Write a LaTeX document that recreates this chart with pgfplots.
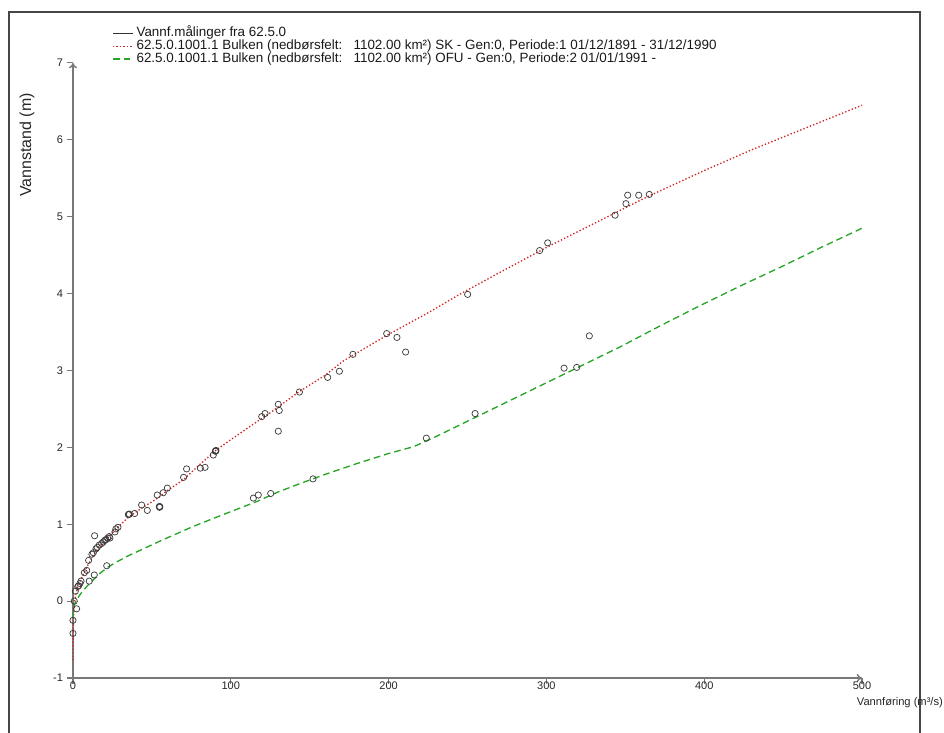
\documentclass[border=0pt]{standalone}
\usepackage{fontspec}
\setmainfont{Liberation Sans}
\usepackage{pgfplots}
\pgfplotsset{compat=1.18}
\usetikzlibrary{arrows.meta}
\definecolor{redc}{RGB}{210,35,35}
\definecolor{greenc}{RGB}{40,165,40}
\definecolor{axisgray}{RGB}{120,120,120}
\definecolor{framegray}{RGB}{70,70,70}
\definecolor{markc}{RGB}{60,60,60}
\begin{document}
\begin{tikzpicture}
\begin{axis}[
 scale only axis, width=591.75bp, height=461.25bp,
 xmin=0, xmax=500, ymin=-1, ymax=7,
 axis lines=left,
 x axis line style={axisgray, line width=1.1bp, -{To[length=4bp,width=6bp]}},
 y axis line style={axisgray, line width=1.1bp, -{To[length=4bp,width=6bp]}},
 tick style={axisgray, line width=0.8bp},
 tick align=outside, major tick length=4.5bp,
 xtick={0,100,200,300,400,500},
 ytick={-1,0,1,2,3,4,5,6,7},
 /pgf/number format/assume math mode=true,
 tick label style={font=\fontsize{8.3}{9}\selectfont, text=black!85},
 xticklabel style={yshift=5.5bp},
 yticklabel style={xshift=0.5bp},
 xlabel={Vannføring (m³/s)},
 ylabel={Vannstand (m)},
 every axis x label/.style={at={(rel axis cs:1.048,-0.0407)}, anchor=center, font=\fontsize{8.4}{9}\selectfont, text=black!85},
 every axis y label/.style={at={(rel axis cs:-0.0583,0.8667)}, rotate=90, anchor=center, font=\fontsize{12}{13}\selectfont, text=black!85},
 clip=false,
 legend cell align=left,
 legend style={at={(rel axis cs:0.0494,1.0585)}, anchor=north west, draw=none, fill=none,
   inner sep=0pt, row sep=0pt,
   nodes={inner sep=0.25bp, text height=6.9bp, text depth=2.1bp, font=\fontsize{10.1}{11}\selectfont, text=black!90}},
]
\addlegendimage{legend image code/.code={\draw[black!80, line width=0.6bp] (0bp,0bp) -- (15bp,0bp);}}
\addlegendentry{\hspace{2bp}Vannf.målinger fra 62.5.0}
\addlegendimage{legend image code/.code={\draw[redc, line width=1bp, dash pattern=on 1bp off 1.6bp] (0bp,0bp) -- (15bp,0bp);}}
\addlegendentry{\hspace{2bp}62.5.0.1001.1 Bulken (nedbørsfelt:\ \ \ 1102.00 km²) SK - Gen:0, Periode:1 01/12/1891 - 31/12/1990}
\addlegendimage{legend image code/.code={\draw[greenc, line width=1bp, dash pattern=on 5bp off 3bp] (0bp,0bp) -- (15bp,0bp);}}
\addlegendentry{\hspace{2bp}62.5.0.1001.1 Bulken (nedbørsfelt:\ \ \ 1102.00 km²) OFU - Gen:0, Periode:2 01/01/1991 -}

% SK curve
\addplot[forget plot, redc, line width=1bp, dash pattern=on 1bp off 1.6bp] coordinates {
(0,-0.77) (0.05,-0.6) (0.2,-0.35) (0.5,-0.15) (1,0.0) (2,0.1) (3,0.18) (5,0.28) (7,0.37)
(10,0.49) (13,0.6) (16,0.69) (20,0.78) (25,0.89) (30,0.99) (35,1.09) (40,1.16) (45,1.23)
(50,1.29) (55,1.36) (60,1.44) (65,1.51) (70,1.58) (80,1.77) (91,1.97) (100,2.1) (112,2.27)
(125,2.45) (143,2.72) (160,2.94) (171,3.12) (185,3.29) (200,3.47) (225,3.75) (245,3.99)
(270,4.27) (300,4.6) (330,4.91) (365,5.27) (400,5.6) (430,5.87) (465,6.16) (500,6.45)};
% OFU curve
\addplot[forget plot, greenc, line width=1bp, dash pattern=on 5bp off 3bp] coordinates {
(0,-0.22) (0.3,-0.12) (1,-0.04) (2.3,0.02) (5,0.1) (8.7,0.19) (12,0.26) (17,0.36) (22,0.44)
(27.7,0.51) (35,0.59) (42.5,0.66) (55,0.78) (65,0.87) (76,0.97) (87,1.06) (97,1.14)
(107,1.22) (117,1.3) (130,1.42) (144,1.53) (160,1.65) (180,1.79) (200,1.92) (216,2.01)
(230,2.14) (245,2.29) (270,2.54) (296,2.80) (320,3.04) (347,3.31) (372,3.58) (397,3.84)
(425,4.12) (450,4.36) (475,4.61) (500,4.85)};
% measurements
\addplot[forget plot, only marks, mark=o, mark size=2.35bp, markc, mark options={line width=0.55bp}] coordinates {
(0,-0.42) (0,-0.25) (2.3,-0.10) (0.8,0.0) (1.5,0.13) (3.0,0.19) (3.6,0.20) (4.4,0.23) (5.1,0.26)
(7.2,0.37) (8.7,0.40) (9.9,0.53) (12.0,0.61) (12.9,0.63) (14.6,0.68) (15.4,0.70) (16.7,0.73)
(13.7,0.85) (18.2,0.75) (19.2,0.77) (20.1,0.79) (20.9,0.80) (22.0,0.82) (23.0,0.84) (23.4,0.82)
(26.6,0.90) (27.2,0.94) (28.5,0.96) (35.1,1.125) (35.7,1.13) (35.4,1.13) (39.1,1.14) (43.5,1.25)
(47.1,1.18) (54.7,1.23) (54.9,1.22) (55.0,1.23) (53.4,1.38) (57.2,1.41) (59.8,1.47) (70.1,1.61)
(72.0,1.72) (80.7,1.73) (83.7,1.74) (88.9,1.90) (90.2,1.95) (90.6,1.96) (90.4,1.95)
(119.6,2.40) (121.7,2.44) (130.1,2.56) (130.7,2.48) (130.1,2.21) (143.5,2.72) (161.4,2.91)
(168.8,2.99) (177.4,3.21) (198.8,3.48) (205.3,3.43) (210.8,3.24) (250.1,3.99) (295.7,4.56)
(300.8,4.66) (343.5,5.02) (350.4,5.17) (351.5,5.28) (358.5,5.28) (365.2,5.29)
(10.3,0.26) (13.5,0.34) (21.4,0.46) (114.3,1.34) (117.4,1.38) (125.3,1.40) (152.1,1.59)
(223.9,2.12) (254.8,2.44) (311.2,3.03) (319.2,3.04) (327.2,3.45)};

% outer frame (three visible sides)
\draw[framegray, line width=0.8bp] (rel axis cs:-0.0811,-0.0894) -- (rel axis cs:-0.0811,1.0829) -- (rel axis cs:1.0735,1.0829) -- (rel axis cs:1.0735,-0.0894);
\coordinate (imgtl) at (rel axis cs:-0.0925,1.1024);
\coordinate (imgbr) at (rel axis cs:1.1039,-0.0894);
\end{axis}
\pgfresetboundingbox
\useasboundingbox (imgtl) rectangle (imgbr);
\end{tikzpicture}
\end{document}
